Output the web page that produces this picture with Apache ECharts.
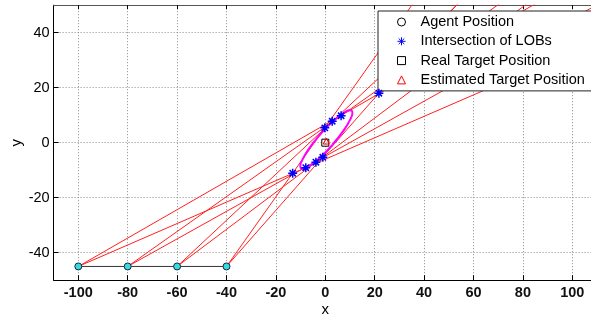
<!DOCTYPE html>
<html><head><meta charset="utf-8">
<script src="https://cdn.jsdelivr.net/npm/echarts@6/dist/echarts.min.js"></script>
<style>html,body{margin:0;padding:0;background:#fff}#c{width:591px;height:321px}</style>
</head><body><div id="c"></div>
<script>
const xTicks = [-100, -80, -60, -40, -20, 0, 20, 40, 60, 80, 100];
const yTicks = [-40, -20, 0, 20, 40];
const agentX = [-100, -80, -60, -40];
const agentY = [-45, -45, -45, -45];
// bearing (deg from +x axis) of the two lines of bearing per agent
const lobUpperDeg = [27.3, 32.4, 40.0, 51.7];
const lobLowerDeg = [21.3, 26.6, 34.0, 45.6];
const intersectX = [6.4, 2.8, -0.2, -1.0, -3.8, -7.9, -13.2, 21.7];
const intersectY = [9.8, 7.8, 5.4, -5.3, -7.1, -9.1, -11.1, 18.0];
const ellipseX = [2.85, -2.60, -7.25, -8.86, -9.84, -10.12, -9.68, -6.81, -2.00, 3.45, 8.10, 9.71, 10.69, 10.97, 10.53, 7.66, 2.85];
const ellipseY = [-0.76, -5.73, -8.87, -9.45, -9.31, -8.45, -6.95, -2.41, 3.08, 8.06, 11.19, 11.78, 11.64, 10.78, 9.27, 4.74, -0.76];
const realTarget = [0, 0];
const estTarget = [0.4, 0.6];
const legendNames = ['Agent Position', 'Intersection of LOBs', 'Real Target Position', 'Estimated Target Position'];

const FONT = "'Liberation Sans', Arial, sans-serif";
const STAR = 'path://M5,0 L5,10 M0,5 L10,5 M1.5,1.5 L8.5,8.5 M1.5,8.5 L8.5,1.5';

const series = [];
agentX.forEach((ax, i) => {
  [lobUpperDeg[i], lobLowerDeg[i]].forEach(deg => {
    const r = deg * Math.PI / 180, L = 400;
    series.push({
      type: 'line', silent: true, symbol: 'none', z: 2, clip: true,
      data: [[ax, agentY[i]], [ax + L * Math.cos(r), agentY[i] + L * Math.sin(r)]],
      lineStyle: { color: '#ff2020', width: 1 }
    });
  });
});
series.push({
  type: 'line', silent: true, symbol: 'none', z: 3,
  data: agentX.map((x, i) => [x, agentY[i]]),
  lineStyle: { color: '#333', width: 1 }
});
series.push({
  type: 'line', silent: true, symbol: 'none', smooth: 0.5, z: 4,
  data: ellipseX.map((x, i) => [x, ellipseY[i]]),
  lineStyle: { color: '#ff00ff', width: 2 }
});
series.push({
  name: legendNames[0], type: 'scatter', symbol: 'circle', symbolSize: 7, z: 5,
  data: agentX.map((x, i) => [x, agentY[i]]),
  itemStyle: { color: '#33dddd', borderColor: '#224', borderWidth: 1, opacity: 1 }
});
series.push({
  name: legendNames[1], type: 'scatter', symbol: STAR, symbolSize: 9, z: 6,
  data: intersectX.map((x, i) => [x, intersectY[i]]),
  itemStyle: { color: '#0000ff', borderColor: '#0000ff', borderWidth: 1.5, opacity: 1 }
});
series.push({
  name: legendNames[2], type: 'scatter', symbol: 'rect', symbolSize: 7, z: 6,
  data: [realTarget],
  itemStyle: { color: 'rgba(0,0,0,0)', borderColor: '#000', borderWidth: 1, opacity: 1 }
});
series.push({
  name: legendNames[3], type: 'scatter', symbol: 'triangle', symbolSize: 6, z: 7,
  data: [estTarget],
  itemStyle: { color: 'rgba(0,0,0,0)', borderColor: '#ff0000', borderWidth: 1, opacity: 1 }
});

const chart = echarts.init(document.getElementById('c'), null, { renderer: 'canvas' });
chart.setOption({
  animation: false,
  backgroundColor: '#fff',
  grid: { left: 53.6, right: -6, top: 5.2, bottom: 40.8, containLabel: false, outerBoundsMode: 'none' },
  xAxis: [{
    type: 'value', min: -110, max: 110, position: 'bottom',
    axisLine: { show: true, onZero: false, lineStyle: { color: '#000', width: 1 } },
    axisTick: { show: true, inside: true, length: 5, customValues: xTicks, lineStyle: { color: '#000' } },
    axisLabel: { customValues: xTicks, margin: 5, fontSize: 14.5, fontWeight: 'bold', color: '#111', fontFamily: FONT },
    splitLine: { show: true, lineStyle: { color: '#8a8a8a', width: 1, type: [1, 2] } },
    name: 'x', nameLocation: 'middle', nameGap: 22, nameMoveOverlap: false,
    nameTextStyle: { fontSize: 15, color: '#000', fontFamily: FONT }
  }, {
    type: 'value', min: -110, max: 110, position: 'top',
    axisLine: { show: true, onZero: false, lineStyle: { color: '#555', width: 1 } },
    axisTick: { show: true, inside: true, length: 4, customValues: xTicks, lineStyle: { color: '#000' } },
    axisLabel: { show: false, customValues: xTicks },
    splitLine: { show: false }
  }],
  yAxis: [{
    type: 'value', min: -50, max: 50,
    axisLine: { show: true, onZero: false, lineStyle: { color: '#000', width: 1 } },
    axisTick: { show: true, inside: true, length: 5, customValues: yTicks, lineStyle: { color: '#000' } },
    axisLabel: { customValues: yTicks, margin: 4, fontSize: 14.5, color: '#000', fontFamily: FONT },
    splitLine: { show: true, lineStyle: { color: '#8a8a8a', width: 1, type: [1, 2] } },
    name: 'y', nameLocation: 'middle', nameGap: 29, nameMoveOverlap: false,
    nameTextStyle: { fontSize: 15, color: '#000', fontFamily: FONT }
  }],
  legend: {
    show: true, left: 378, top: 11, orient: 'vertical', selectedMode: false,
    backgroundColor: '#fff', borderColor: '#222', borderWidth: 1, borderRadius: 0,
    padding: [3.5, 20, 3.5, 19], itemGap: 4.3, itemWidth: 8, itemHeight: 8,
    textStyle: { fontSize: 14.5, color: '#000', fontFamily: FONT, lineHeight: 15, padding: [0, 0, 0, 10] },
    data: [
      { name: legendNames[0], icon: 'circle', itemStyle: { color: '#fff', borderColor: '#000', borderWidth: 1 } },
      { name: legendNames[1], icon: STAR, itemStyle: { color: '#00f', borderColor: '#00f', borderWidth: 1 } },
      { name: legendNames[2], icon: 'rect', itemStyle: { color: '#fff', borderColor: '#000', borderWidth: 1 } },
      { name: legendNames[3], icon: 'triangle', itemStyle: { color: '#fff', borderColor: '#f00', borderWidth: 1 } }
    ]
  },
  series: series
});
</script></body></html>
